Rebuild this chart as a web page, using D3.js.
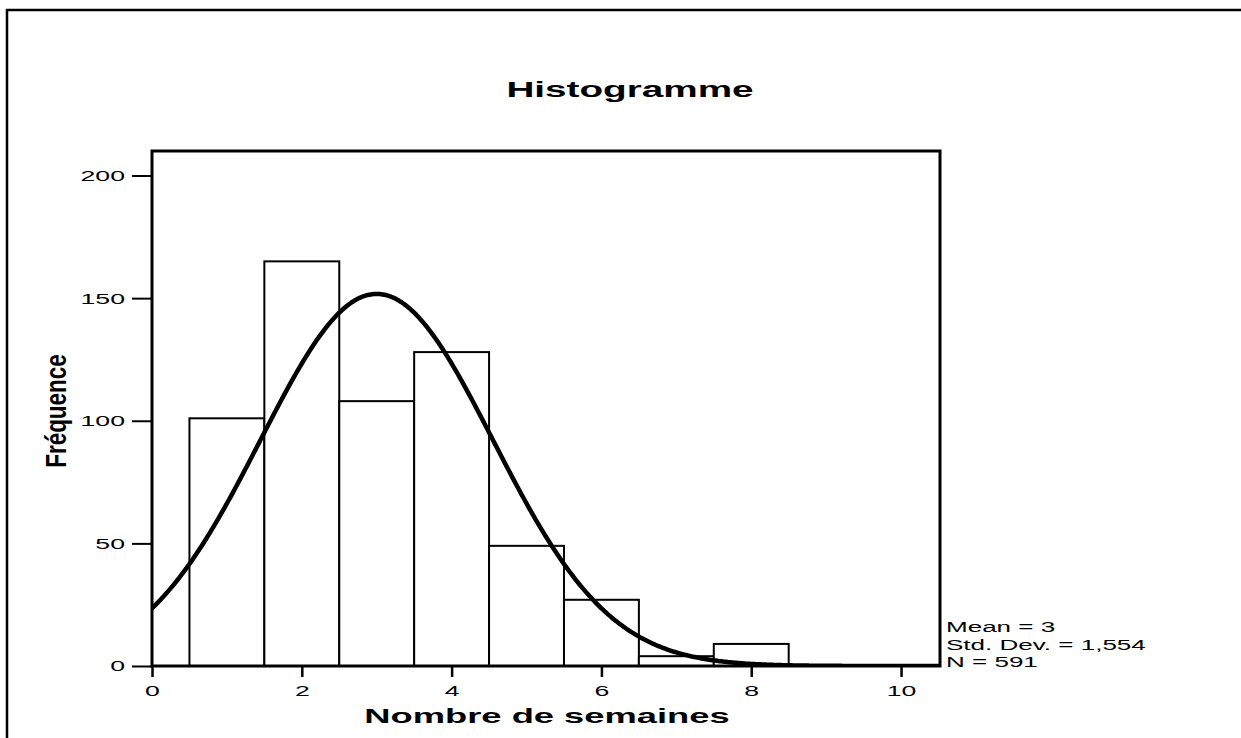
<!DOCTYPE html>
<html>
<head>
<meta charset="utf-8">
<script src="https://cdn.jsdelivr.net/npm/d3@7"></script>
<style>
  html, body { margin: 0; padding: 0; background: #fff; }
  svg { display: block; }
  text { font-family: "Liberation Sans", Arial, Helvetica, sans-serif; fill: #000; }
</style>
</head>
<body>
<svg id="chart" width="1241" height="738"></svg>
<script>
// Histogram bins (number of weeks) and their counts
const binCenters = [1, 2, 3, 4, 5, 6, 7, 8];
const frequencies = [101, 165, 108, 128, 49, 27, 4, 9];

// Axis ticks
const xTicks = [0, 2, 4, 6, 8, 10];
const yTicks = [0, 50, 100, 150, 200];

// Summary statistics shown beside the plot and used for the normal curve
const mean = 3;
const stdDev = 1.554;
const sampleSize = 591;
const statLines = ["Mean = 3", "Std. Dev. = 1,554", "N = 591"];

const svg = d3.select("#chart");

// Plot frame
const plotLeft = 152, plotRight = 940, plotTop = 151, plotBottom = 666;

const x = d3.scaleLinear().domain([0, 10.52]).range([plotLeft, plotRight]);
const y = d3.scaleLinear().domain([0, 210]).range([plotBottom, plotTop]);

// Text in this figure is drawn wide (horizontally stretched)
const SX = 1.72;

// Outer page border (runs off the right and bottom edges)
svg.append("rect")
  .attr("x", 7).attr("y", 10)
  .attr("width", 1400).attr("height", 900)
  .attr("fill", "none").attr("stroke", "#000").attr("stroke-width", 2.5);

// Title
svg.append("text")
  .attr("transform", `translate(630,97) scale(1.8,1)`)
  .attr("text-anchor", "middle")
  .attr("font-size", 21.5).attr("font-weight", "bold")
  .text("Histogramme");

// Bars
const bars = binCenters.map((c, i) => ({ c, f: frequencies[i] }));
svg.append("g").selectAll("rect").data(bars).join("rect")
  .attr("x", d => x(d.c - 0.5))
  .attr("width", d => x(d.c + 0.5) - x(d.c - 0.5))
  .attr("y", d => y(d.f))
  .attr("height", d => y(0) - y(d.f))
  .attr("fill", "#fff")
  .attr("stroke", "#000")
  .attr("stroke-width", 2);

// Normal curve scaled to counts (bin width 1)
const binWidth = 1;
const density = t => sampleSize * binWidth / (stdDev * Math.sqrt(2 * Math.PI)) *
  Math.exp(-((t - mean) ** 2) / (2 * stdDev * stdDev));
const curvePts = d3.range(0, 10.52 + 1e-9, 0.02).map(t => [t, density(t)]);

svg.append("clipPath").attr("id", "plotClip")
  .append("rect").attr("x", plotLeft).attr("y", plotTop)
  .attr("width", plotRight - plotLeft).attr("height", plotBottom - plotTop);

svg.append("path")
  .datum(curvePts)
  .attr("clip-path", "url(#plotClip)")
  .attr("fill", "none")
  .attr("stroke", "#000")
  .attr("stroke-width", 4.5)
  .attr("stroke-linejoin", "round")
  .attr("d", d3.line().x(d => x(d[0])).y(d => y(d[1])));

// Frame
svg.append("rect")
  .attr("x", plotLeft).attr("y", plotTop)
  .attr("width", plotRight - plotLeft).attr("height", plotBottom - plotTop)
  .attr("fill", "none").attr("stroke", "#000").attr("stroke-width", 3);

// Y axis
const yAxis = svg.append("g")
  .attr("transform", `translate(${plotLeft},0)`)
  .call(d3.axisLeft(y).tickValues(yTicks).tickSize(20).tickPadding(7));
yAxis.select(".domain").remove();
yAxis.selectAll(".tick line").attr("stroke", "#000").attr("stroke-width", 2);
yAxis.selectAll(".tick text")
  .attr("font-size", 15.5)
  .attr("fill", "#000")
  .attr("x", -27 / SX)
  .attr("transform", `scale(${SX},1)`);
yAxis.attr("font-family", null).attr("font-size", null);

// X axis
const xAxis = svg.append("g")
  .attr("transform", `translate(0,${plotBottom})`)
  .call(d3.axisBottom(x).tickValues(xTicks).tickSize(11).tickPadding(8));
xAxis.select(".domain").remove();
xAxis.selectAll(".tick line").attr("stroke", "#000").attr("stroke-width", 2.5);
xAxis.selectAll(".tick text")
  .attr("font-size", 15.5)
  .attr("fill", "#000")
  .attr("transform", `scale(${SX},1)`);
xAxis.attr("font-family", null).attr("font-size", null);

// Axis titles
svg.append("text")
  .attr("transform", `translate(547,723) scale(1.73,1)`)
  .attr("text-anchor", "middle")
  .attr("font-size", 21).attr("font-weight", "bold")
  .text("Nombre de semaines");

svg.append("text")
  .attr("transform", `translate(66,411) rotate(-90) scale(1,1.3)`)
  .attr("text-anchor", "middle")
  .attr("font-size", 22.5).attr("font-weight", "bold")
  .text("Fréquence");

// Summary statistics
svg.append("g").selectAll("text").data(statLines).join("text")
  .attr("transform", (d, i) => `translate(946,${632 + i * 17.5}) scale(1.68,1)`)
  .attr("font-size", 15.5)
  .text(d => d);
</script>
</body>
</html>
